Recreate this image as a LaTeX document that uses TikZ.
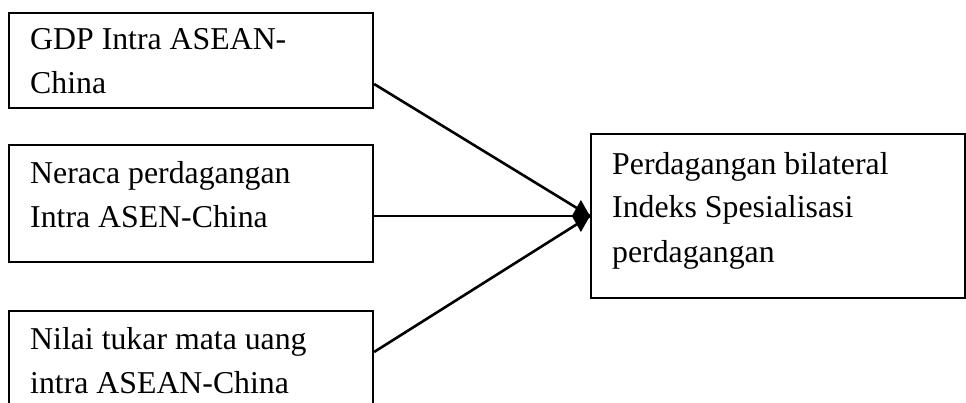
\documentclass[tikz,border=0pt]{standalone}
\usepackage{fontspec}
\setmainfont{Liberation Serif}
\begin{document}
\begin{tikzpicture}[x=1pt,y=-1pt,
  box/.style={draw=black,line width=2.2pt,minimum width=#1,inner sep=0pt},
  lbl/.style={anchor=base west,align=left,inner sep=0pt,
    font=\fontsize{31.8pt}{44pt}\selectfont},
  conn/.style={line width=2.6pt},
  kitehead/.style={fill=black}]
\clip (0,0) rectangle (966,403);
\fill[white] (0,0) rectangle (966,403);
% boxes
\node[box=364pt,minimum height=95pt]  (b1) at (191,60.5) {};
\node[box=364pt,minimum height=117pt] (b2) at (191,203.5) {};
\node[box=364pt,minimum height=129pt] (b3) at (191,375.5) {};
\node[box=374pt,minimum height=164pt] (out) at (778,216) {};
% texts (anchored at the baseline of their last line)
\node[lbl] (t1) at (30,94) {GDP Intra ASEAN-\\China};
\node[lbl] (t2) at (30,228) {Neraca perdagangan\\Intra ASEN-China};
\node[lbl] (t3) at (30,393) {Nilai tukar mata uang\\intra ASEAN-China};
\node[lbl] (t4) at (612,262) {Perdagangan bilateral\\Indeks Spesialisasi\\perdagangan};
% connector ends
\coordinate (s1) at (b1.east |- 0,84);
\coordinate (s2) at (b2.east |- 0,216);
\coordinate (s3) at (b3.east |- 0,352);
\coordinate (tip) at (out.west);
\draw[conn] (s1) -- (tip);
\draw[conn] (s2) -- (tip);
\draw[conn] (s3) -- (tip);
% merged arrowheads
\fill[kitehead] (tip) -- ++(-9,-16) -- ++(-9,16) -- ++(9,16) -- cycle;
\end{tikzpicture}
\end{document}
